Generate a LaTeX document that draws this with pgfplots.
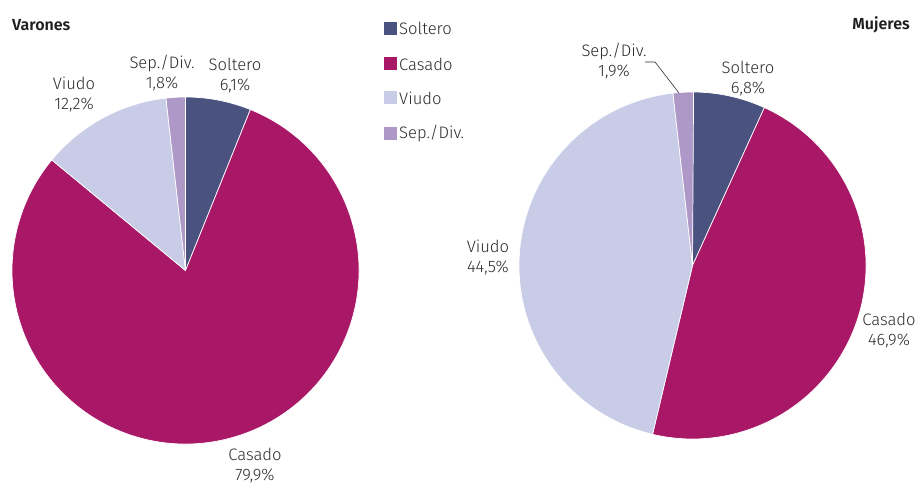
\documentclass[border=0pt]{standalone}
\usepackage{pgfplots}
\pgfplotsset{compat=1.18}
\usepackage{fontspec}
\setmainfont{Fira Sans Light}[BoldFont={Fira Sans SemiBold}]
\definecolor{csol}{HTML}{4A5280}
\definecolor{ccas}{HTML}{A91767}
\definecolor{cviu}{HTML}{C8CCE6}
\definecolor{csep}{HTML}{AE98C8}
\definecolor{txt}{HTML}{2C2C2C}

% porcentajes de cada sector (en el orden Soltero, Casado, Viudo, Sep./Div.)
\def\varones{6.1/csol,79.9/ccas,12.2/cviu,1.8/csep}
\def\mujeres{6.8/csol,46.9/ccas,44.5/cviu,1.9/csep}

\begin{document}
\begin{tikzpicture}
\begin{axis}[
    x=1pt, y=1pt,
    xmin=0, xmax=917, ymin=0, ymax=484,
    hide axis, clip=false,
]
\path (axis cs:0,0) rectangle (axis cs:917,484);

% Varones
\foreach \v/\c [remember=\e as \s (initially 90)] in \varones {
  \pgfmathsetmacro\e{\s-3.6*\v}
  \edef\tmp{\noexpand\fill[\c,draw=white,line width=0.7pt] (axis cs:185.5,213.5) -- ++(\s:173.5pt)
    arc[start angle=\s, end angle=\e, radius=173.5pt] -- cycle;}
  \tmp
}
% Mujeres
\foreach \v/\c [remember=\e as \s (initially 90)] in \mujeres {
  \pgfmathsetmacro\e{\s-3.6*\v}
  \edef\tmp{\noexpand\fill[\c,draw=white,line width=0.7pt] (axis cs:692.5,218.5) -- ++(\s:173.5pt)
    arc[start angle=\s, end angle=\e, radius=173.5pt] -- cycle;}
  \tmp
}

\tikzset{lbl/.style={text=txt, align=center, font=\fontsize{16.6}{20}\selectfont, inner sep=0pt}}

% titulos
\node[anchor=west, font=\bfseries\fontsize{16}{18}\selectfont, text=black!88, inner sep=0pt] at (axis cs:12,459) {Varones};
\node[anchor=east, font=\bfseries\fontsize{16}{18}\selectfont, text=black!88, inner sep=0pt] at (axis cs:910,459) {Mujeres};

% etiquetas Varones
\node[lbl] at (axis cs:235,408) {Soltero\\6,1\%};
\node[lbl] at (axis cs:162,411) {Sep./Div.\\1,8\%};
\node[lbl] at (axis cs:74,389) {Viudo\\12,2\%};
\node[lbl] at (axis cs:255,18.5) {Casado\\79,9\%};

% etiquetas Mujeres
\node[lbl] at (axis cs:748,405) {Soltero\\6,8\%};
\node[lbl] at (axis cs:614,423) {Sep./Div.\\1,9\%};
\node[lbl] at (axis cs:488,226) {Viudo\\44,5\%};
\node[lbl] at (axis cs:889,153) {Casado\\46,9\%};
\draw[txt, line width=0.6pt] (axis cs:645,422) -- (axis cs:655,422) -- (axis cs:679,391);

% leyenda
\fill[csol] (axis cs:384,449) rectangle (axis cs:397,462);
\fill[ccas] (axis cs:384,413.5) rectangle (axis cs:397,426.5);
\fill[cviu] (axis cs:384,379.5) rectangle (axis cs:397,392.5);
\fill[csep] (axis cs:384,343.5) rectangle (axis cs:397,356.5);
\node[lbl, anchor=west] at (axis cs:399,456) {Soltero};
\node[lbl, anchor=west] at (axis cs:399,420) {Casado};
\node[lbl, anchor=west] at (axis cs:399,386) {Viudo};
\node[lbl, anchor=west] at (axis cs:399,350) {Sep./Div.};
\end{axis}
\end{tikzpicture}
\end{document}
